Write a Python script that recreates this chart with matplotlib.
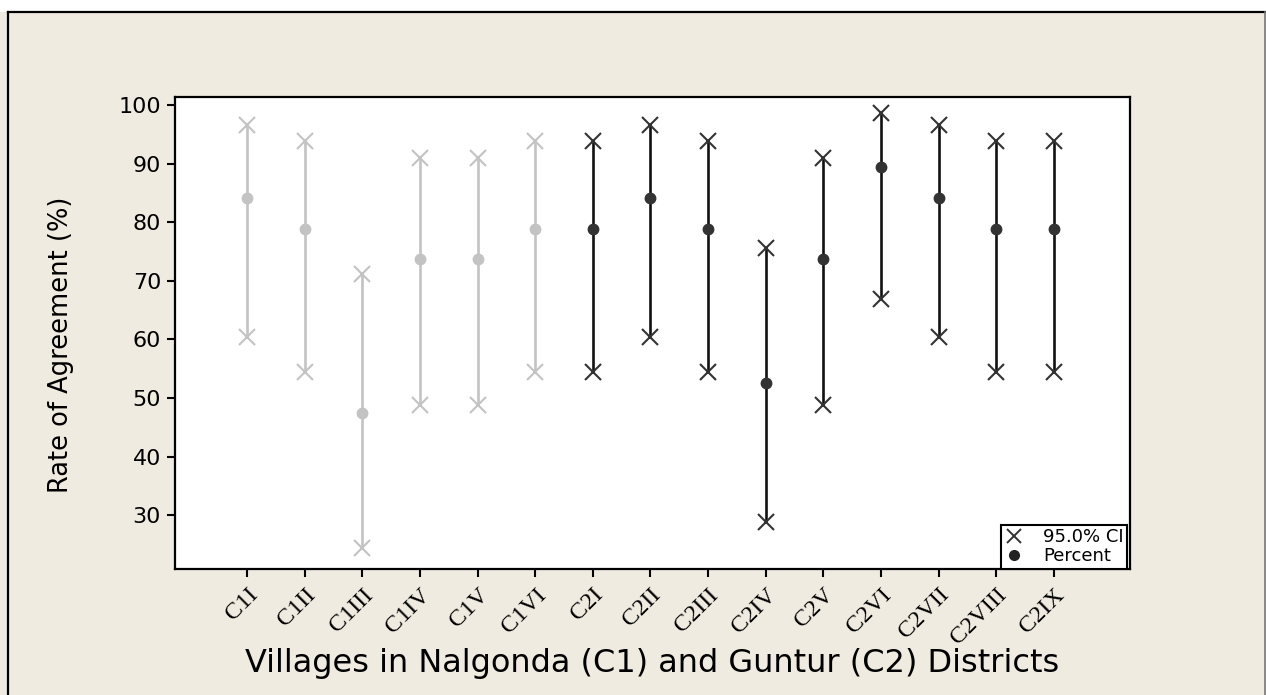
import matplotlib
matplotlib.use("Agg")
import matplotlib.pyplot as plt
from matplotlib.lines import Line2D

villages = ["C1I", "C1II", "C1III", "C1IV", "C1V", "C1VI",
            "C2I", "C2II", "C2III", "C2IV", "C2V", "C2VI", "C2VII", "C2VIII", "C2IX"]
district = ["C1"] * 6 + ["C2"] * 9
percent = [84.2, 78.9, 47.4, 73.7, 73.7, 78.9,
           78.9, 84.2, 78.9, 52.6, 73.7, 89.5, 84.2, 78.9, 78.9]
ci_low = [60.4, 54.4, 24.4, 48.8, 48.8, 54.4,
          54.4, 60.4, 54.4, 28.9, 48.8, 66.9, 60.4, 54.4, 54.4]
ci_high = [96.6, 93.9, 71.1, 90.9, 90.9, 93.9,
           93.9, 96.6, 93.9, 75.6, 90.9, 98.7, 96.6, 93.9, 93.9]
yticks = [30, 40, 50, 60, 70, 80, 90, 100]

BG = "#EFEBE1"
colors = {"C1": "#C3C3C3", "C2": "#111111"}
dotcolors = {"C1": "#C3C3C3", "C2": "#333333"}
xcolors = {"C1": "#C3C3C3", "C2": "#333333"}

fig = plt.figure(figsize=(12.66, 6.95), dpi=100, facecolor=BG)
ax = fig.add_axes([175/1266, 1 - 569/695, (1130-175)/1266, (569-97)/695])
ax.set_facecolor("white")

for i, v in enumerate(villages):
    d = district[i]
    ax.plot([i, i], [ci_low[i], ci_high[i]], color=colors[d], lw=1.9, zorder=2)
    ax.plot([i, i], [ci_low[i], ci_high[i]], ls="none", marker="x", ms=12,
            mew=1.5, color=xcolors[d], zorder=3)
    ax.plot([i], [percent[i]], ls="none", marker="o", ms=7.5,
            color=dotcolors[d], zorder=4)

ax.set_xlim(-1.25, len(villages) - 1 + 1.32)
ax.set_ylim(20.8, 101.4)
ax.set_yticks(yticks)
ax.set_xticks(range(len(villages)))
ax.set_xticklabels(villages, rotation=45, ha="right", va="top",
                   rotation_mode="anchor", family="Liberation Serif", fontsize=17.5)
for lab in ax.get_yticklabels():
    lab.set_family("DejaVu Sans")
    lab.set_fontsize(16)
ax.tick_params(axis="both", direction="out", length=6, width=1.5, color="black")
ax.tick_params(axis="x", pad=5)
ax.tick_params(axis="y", pad=4)
for s in ax.spines.values():
    s.set_linewidth(1.6)
    s.set_color("black")

ax.set_ylabel("Rate of Agreement (%)", family="DejaVu Sans", fontsize=18.5)
ax.yaxis.set_label_coords(-0.106, 0.4746)
ax.set_xlabel("Villages in Nalgonda (C1) and Guntur (C2) Districts",
              family="DejaVu Sans", fontsize=23)
ax.xaxis.set_label_coords(0.5, -0.168)

handles = [Line2D([], [], ls="none", marker="x", ms=10, mew=1.4, color="#333333"),
           Line2D([], [], ls="none", marker="o", ms=7, color="#222222")]
leg = ax.legend(handles, ["95.0% CI", "Percent"], loc="lower right",
                bbox_to_anchor=(0.997, 0.0), borderaxespad=0, fancybox=False,
                framealpha=1, edgecolor="black", prop={"family": "DejaVu Sans", "size": 13},
                handlelength=1.0, handletextpad=1.1, borderpad=0.2, labelspacing=0.05)
leg.get_frame().set_linewidth(1.5)

# outer frame
fig.add_artist(Line2D([8/1266, 1265/1266], [1 - 12/695, 1 - 12/695],
                      transform=fig.transFigure, color="black", lw=1.6))
fig.add_artist(Line2D([8/1266, 8/1266], [0, 1 - 12/695],
                      transform=fig.transFigure, color="black", lw=1.6))
fig.add_artist(Line2D([1265/1266, 1265/1266], [0, 1 - 12/695],
                      transform=fig.transFigure, color="#777777", lw=1.2))
fig.patches.append(plt.Rectangle((0, 1 - 12/695), 1, 12/695, transform=fig.transFigure,
                                 facecolor="white", edgecolor="none", zorder=-1))

fig.savefig("out.png", dpi=100, facecolor=BG)
